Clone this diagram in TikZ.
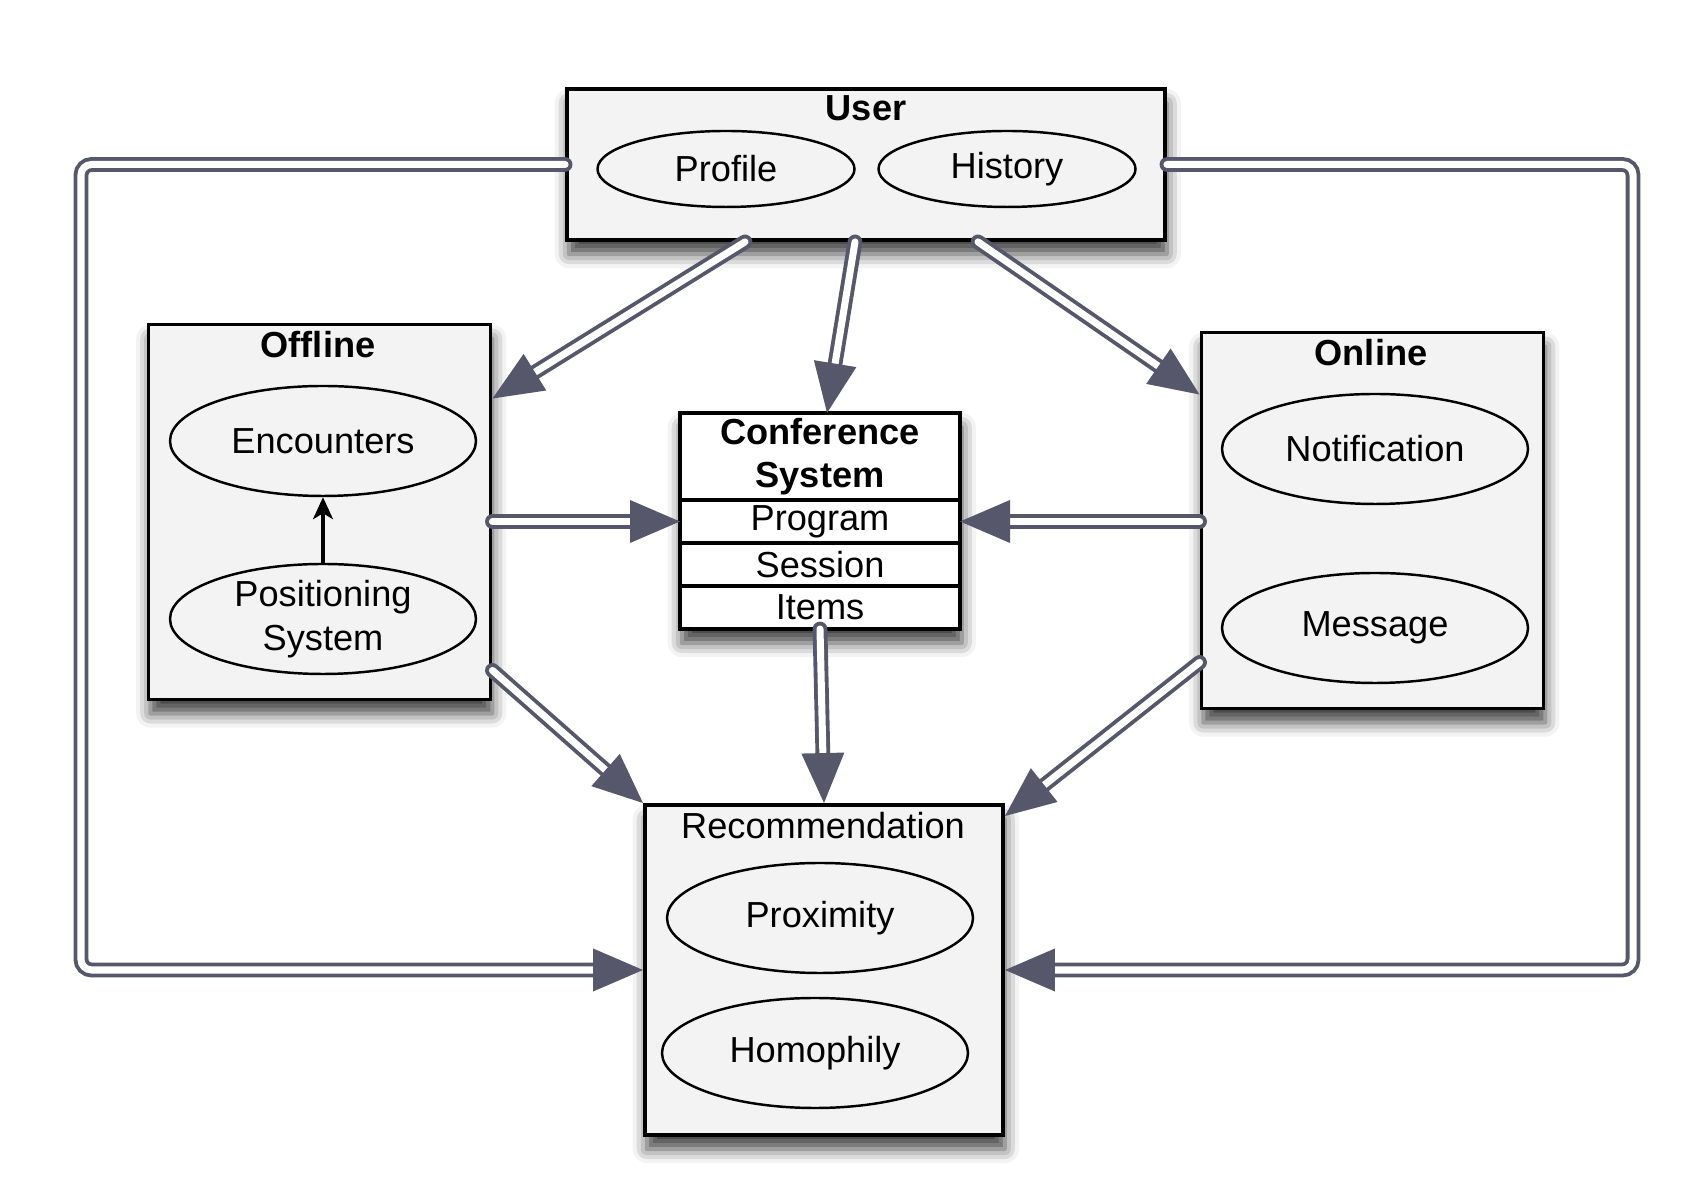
\documentclass[tikz,border=0pt]{standalone}
\usepackage{fontspec}
\setmainfont{Liberation Sans}
\usetikzlibrary{positioning,shapes.geometric,shadows.blur,arrows.meta}
\definecolor{arrgray}{HTML}{56576A}
\definecolor{boxgray}{HTML}{F3F3F3}

\begin{document}
\begin{tikzpicture}[
    font=\fontsize{10.3}{12.4}\selectfont,
    shade box/.style={blur shadow={shadow xshift=0.5pt, shadow yshift=-4pt,
      shadow blur radius=4pt, shadow opacity=75}},
    box/.style={draw, line width=1.1pt, fill=boxgray, shade box},
    ttl/.style={font=\fontsize{10.3}{12.4}\selectfont\bfseries, inner sep=0pt},
    elem/.style={draw, ellipse, line width=0.7pt, minimum width=3.06cm,
      minimum height=1.1cm, inner sep=0pt, align=center},
    row/.style={draw, line width=1.1pt, fill=white, minimum width=2.8cm,
      minimum height=0.43cm, inner sep=0pt, outer sep=0pt},
    flow/.style={draw=arrgray, double=white, line width=1.1pt,
      double distance=2pt, line cap=round,
      -{Triangle[width=4.2mm,length=5mm]}}
  ]
  \useasboundingbox (0,0) rectangle (16.98,11.84);

  % User
  \node[box, minimum width=5.98cm, minimum height=1.51cm] (user) at (8.66,10.195) {};
  \node[ttl] (usert) at (8.66,10.76) {User};
  \node[elem, minimum width=2.57cm, minimum height=0.76cm] (prof) at (7.26,10.15) {Profile};
  \node[elem, minimum width=2.57cm, minimum height=0.76cm] (hist) at (10.07,10.15) {History};

  % Offline
  \node[box, minimum width=3.42cm, minimum height=3.75cm] (off) at (3.195,6.72) {};
  \node[ttl] (offt) at (3.18,8.39) {Offline};
  \node[elem] (enc) at (3.23,7.43) {Encounters};
  \node[elem] (pos) at (3.23,5.65) {Positioning\\System};
  \draw[-{Stealth[length=2.2mm,width=2mm,inset=0.6mm]}, line width=0.9pt] (pos) -- (enc);

  % Online
  \node[box, minimum width=3.42cm, minimum height=3.76cm] (onl) at (13.725,6.635) {};
  \node[ttl] (onlt) at (13.71,8.31) {Online};
  \node[elem] (notif) at (13.75,7.35) {Notification};
  \node[elem] (msg) at (13.75,5.56) {Message};

  % Conference System
  \node[fill=white, shade box, minimum width=2.8cm, minimum height=2.16cm,
    inner sep=0pt, outer sep=0pt] (conf) at (8.20,6.63) {};
  \node[row, minimum height=0.87cm, align=center, ttl, anchor=north] (conft) at (conf.north) {Conference\\System};
  \node[row, below=0pt of conft] (prog) {Program};
  \node[row, below=0pt of prog] (sess) {Session};
  \node[row, below=0pt of sess] (items) {Items};

  % Recommendation
  \node[box, minimum width=3.58cm, minimum height=3.30cm] (rec) at (8.24,2.14) {};
  \node (rect) at (8.23,3.58) {Recommendation};
  \node[elem] (prox) at (8.20,2.66) {Proximity};
  \node[elem] (homo) at (8.15,1.31) {Homophily};

  % Flows
  \coordinate (lft) at (0.81,5);
  \coordinate (rgt) at (16.33,5);
  \draw[flow] ([xshift=-1.21cm]user.south) -- ([yshift=-0.76cm]off.north east);
  \draw[flow] ([xshift=-0.11cm]user.south) -- ([xshift=0.07cm]conft.north);
  \draw[flow] ([xshift=1.12cm]user.south) -- ([yshift=-0.64cm]onl.north west);
  \draw[flow] (off.east |- prog) -- (prog.west);
  \draw[flow] (onl.west |- prog) -- (prog.east);
  \draw[flow] ([yshift=0.31cm]off.south east) -- (rec.north west);
  \draw[flow] (items.south) -- (rec.north);
  \draw[flow] ([yshift=0.48cm]onl.south west) -- ([yshift=-0.13cm]rec.north east);
  \draw[flow, rounded corners=3pt] (user.west) -| (lft) |- (rec.west);
  \draw[flow, rounded corners=3pt] (user.east) -| (rgt) |- (rec.east);
\end{tikzpicture}
\end{document}
